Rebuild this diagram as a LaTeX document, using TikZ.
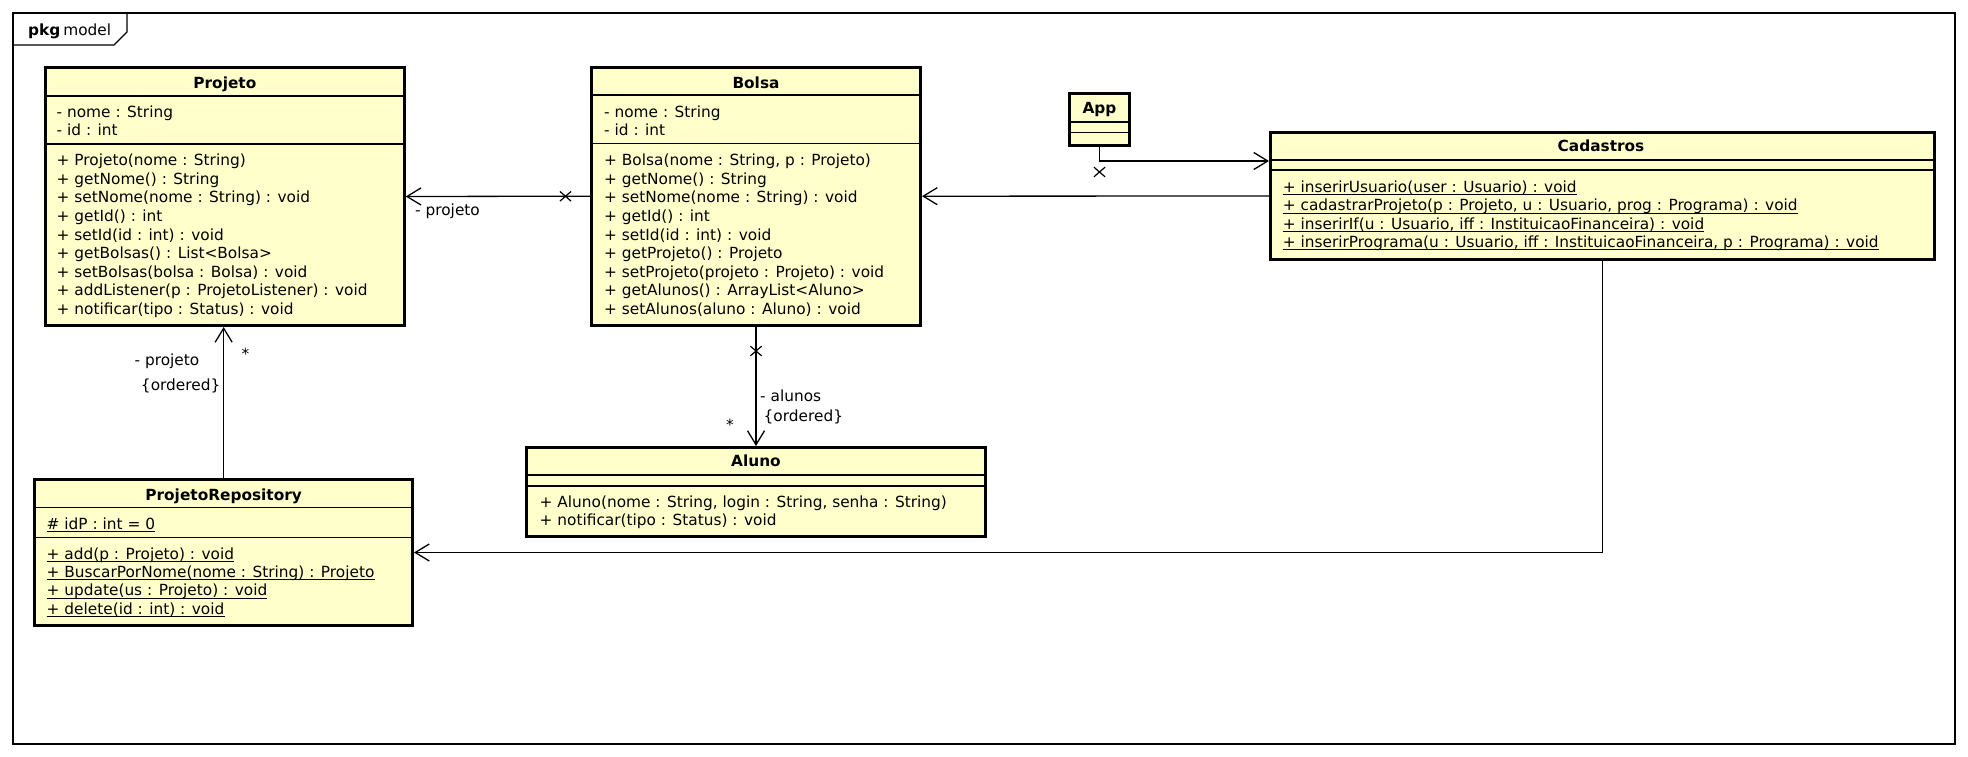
\documentclass[tikz,border=0pt]{standalone}
\usepackage{fontspec}
\setmainfont{DejaVu Sans}
\usetikzlibrary{arrows.meta,shapes.misc}
\definecolor{clsfill}{HTML}{FFFFCC}
\newcommand{\memlist}[5]{%
  \foreach \mtext [count=\mi] in {#5}{%
    \node[mem] (#1\mi) at (#2,{#3+#4*(\mi-1)}) {\mtext};}}
\newcommand{\ulmemlist}[5]{%
  \foreach \mtext [count=\mi] in {#5}{%
    \node[mem] (#1\mi) at (#2,{#3+#4*(\mi-1)}) {\mtext};
    \draw[ulline] ([yshift=-2.3pt]#1\mi.base west) -- ([yshift=-2.3pt]#1\mi.base east);}}
\begin{document}
\begin{tikzpicture}[x=1pt,y=-1pt,
  cls/.style={draw, line width=3pt, fill=clsfill, inner sep=0pt},
  sepline/.style={line width=1.2pt},
  mem/.style={anchor=base west, inner sep=0pt, font=\fontsize{15.35pt}{18pt}\selectfont},
  ttl/.style={anchor=base, inner sep=0pt, font=\fontsize{15.35pt}{18pt}\selectfont\bfseries},
  lbl/.style={inner sep=0pt, font=\fontsize{15.35pt}{18pt}\selectfont},
  assoc/.style={line width=1.3pt, -{Straight Barb[length=14pt,width=17pt]}},
  xmark/.style={cross out, draw, line width=1.2pt, minimum width=10pt, minimum height=8.5pt, inner sep=0pt},
  ulline/.style={line width=0.9pt},
  frame/.style={line width=1.4pt}]
\useasboundingbox (0,0) rectangle (1968,757);
\fill[white] (0,0) rectangle (1968,757);
% package frame
\draw[frame] (13,13) rectangle (1955,744);
\draw[frame] (13,45) -- (114,45) -- (127,32) -- (127,13);
\node[lbl, anchor=base west] (pkg) at (28,36) {\textbf{pkg}\hspace{3pt}model};

% classes
\node[cls, minimum width=358.7pt, minimum height=258pt] (projeto) at (224.85,196.5) {};
\draw[sepline] (45.5,96) -- (404.2,96);
\draw[sepline] (45.5,144) -- (404.2,144);
\node[ttl] (projetoT) at (224.85,88.3) {Projeto};
\memlist{pja}{56.5}{117.3}{18.7}{{- nome : String},{- id : int}}
\memlist{pjm}{56.5}{165.7}{18.58}{{+ Projeto(nome : String)},{+ getNome() : String},{+ setNome(nome : String) : void},{+ getId() : int},{+ setId(id : int) : void},{+ getBolsas() : List<Bolsa>},{+ setBolsas(bolsa : Bolsa) : void},{+ addListener(p : ProjetoListener) : void},{+ notificar(tipo : Status) : void}}

\node[cls, minimum width=329pt, minimum height=258pt] (bolsa) at (756,196.2) {};
\draw[sepline] (591.5,95) -- (920.5,95);
\draw[sepline] (591.5,143.3) -- (920.5,143.3);
\node[ttl] (bolsaT) at (756,88.3) {Bolsa};
\memlist{bla}{604}{117.3}{18.7}{{- nome : String},{- id : int}}
\memlist{blm}{604}{165.7}{18.58}{{+ Bolsa(nome : String, p : Projeto)},{+ getNome() : String},{+ setNome(nome : String) : void},{+ getId() : int},{+ setId(id : int) : void},{+ getProjeto() : Projeto},{+ setProjeto(projeto : Projeto) : void},{+ getAlunos() : ArrayList<Aluno>},{+ setAlunos(aluno : Aluno) : void}}

\node[cls, minimum width=459pt, minimum height=89pt] (aluno) at (756,492) {};
\draw[sepline] (526.5,475) -- (985.5,475);
\draw[sepline] (526.5,486) -- (985.5,486);
\node[ttl] (alunoT) at (756,466.7) {Aluno};
\memlist{alm}{539.5}{507.3}{18.4}{{+ Aluno(nome : String, login : String, senha : String)},{+ notificar(tipo : Status) : void}}

\node[cls, minimum width=377.7pt, minimum height=145.4pt] (projrepo) at (223.65,552.5) {};
\draw[sepline] (34.8,507.3) -- (412.5,507.3);
\draw[sepline] (34.8,537.3) -- (412.5,537.3);
\node[ttl] (projrepoT) at (223.65,500) {ProjetoRepository};
\ulmemlist{pra}{46.5}{529.3}{18.3}{{\# idP : int = 0}}
\ulmemlist{prm}{46.5}{559.2}{18.3}{{+ add(p : Projeto) : void},{+ BuscarPorNome(nome : String) : Projeto},{+ update(us : Projeto) : void},{+ delete(id : int) : void}}

\node[cls, minimum width=60pt, minimum height=52pt] (app) at (1099.5,119.5) {};
\draw[sepline] (1069.5,122) -- (1129.5,122);
\draw[sepline] (1069.5,132.5) -- (1129.5,132.5);
\node[ttl] (appT) at (1099.5,113.3) {App};

\node[cls, minimum width=664pt, minimum height=127pt] (cadastros) at (1602.5,196) {};
\draw[sepline] (1270.5,160) -- (1934.5,160);
\draw[sepline] (1270.5,170) -- (1934.5,170);
\node[ttl] (cadastrosT) at (1601,151.7) {Cadastros};
\ulmemlist{cdm}{1282.7}{192.6}{18.2}{{+ inserirUsuario(user : Usuario) : void},{+ cadastrarProjeto(p : Projeto, u : Usuario, prog : Programa) : void},{+ inserirIf(u : Usuario, iff : InstituicaoFinanceira) : void},{+ inserirPrograma(u : Usuario, iff : InstituicaoFinanceira, p : Programa) : void}}

% connectors
\draw[assoc] (bolsa.west) -- (projeto.east);
\node[xmark] (x1) at (565.5,196.3) {};
\node[lbl, anchor=base west] (l1) at (415,215) {- projeto};

\draw[assoc] (cadastros.west) -- (bolsa.east);

\draw[assoc] (app.south) |- ([yshift=-30pt]cadastros.north west);
\node[xmark] (x2) at (1099.5,172) {};

\draw[assoc] (bolsa.south) -- (aluno.north);
\node[xmark] (x3) at (756,351) {};
\node[lbl, anchor=base west] (l2) at (760,401) {- alunos};
\node[lbl, anchor=base west] (l3) at (763.5,421.7) {\{ordered\}};
\node[lbl, anchor=base west] (l4) at (726,430) {*};

\draw[assoc] (projrepo.north) -- (projrepo.north |- projeto.south);
\node[lbl, anchor=base east] (l5) at (199.5,365.7) {- projeto};
\node[lbl, anchor=base east] (l6) at (220.5,390.7) {\{ordered\}};
\node[lbl, anchor=base west] (l7) at (241.5,359) {*};

\draw[assoc] (cadastros.south) |- (projrepo.east);
\end{tikzpicture}
\end{document}
